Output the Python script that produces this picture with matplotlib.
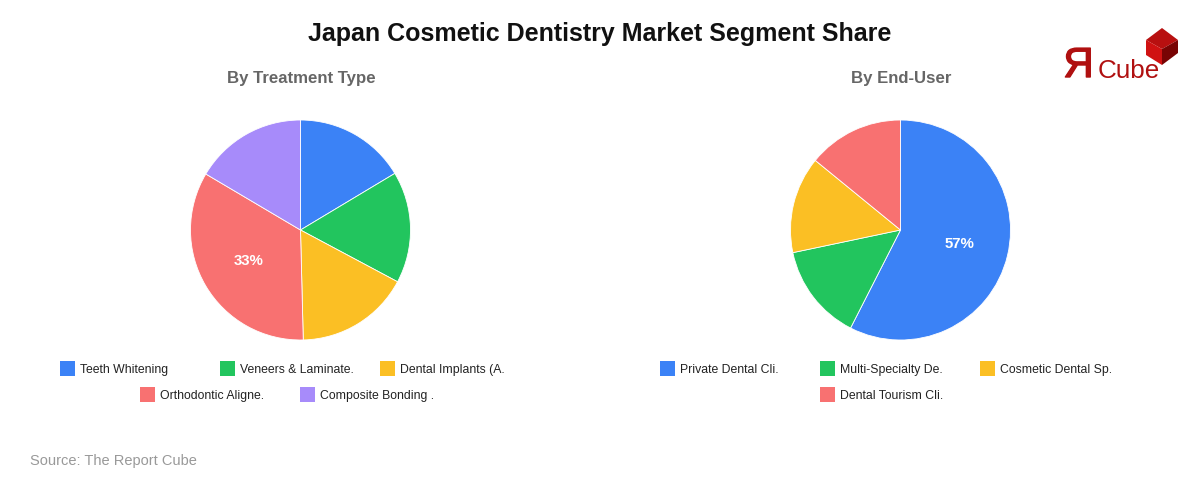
import math

import matplotlib
matplotlib.use("Agg")
import matplotlib.pyplot as plt
import matplotlib.patheffects as pe
from matplotlib.patches import Polygon, Rectangle

plt.rcParams["font.family"] = ["Liberation Sans", "DejaVu Sans"]

W, H = 1200, 480
PT = 72 / 100  # px -> pt

treatment_labels = ["Teeth Whitening", "Veneers & Laminate.", "Dental Implants (A.",
                    "Orthodontic Aligne.", "Composite Bonding ."]
treatment_values = [16.4, 16.4, 16.8, 33.9, 16.5]
treatment_pct = ["", "", "", "33%", ""]
treatment_colors = ["#3b82f6", "#22c55e", "#fbbf24", "#f87171", "#a78bfa"]

enduser_labels = ["Private Dental Cli.", "Multi-Specialty De.", "Cosmetic Dental Sp.",
                  "Dental Tourism Cli."]
enduser_values = [57.5, 14.2, 14.2, 14.1]
enduser_pct = ["57%", "", "", ""]
enduser_colors = ["#3b82f6", "#22c55e", "#fbbf24", "#f87171"]


def pie(fig, cx, cy, r, values, colors, pct):
    ax = fig.add_axes([(cx - r - 1) / W, 1 - (cy + r + 1) / H, (2 * r + 2) / W, (2 * r + 2) / H])
    ax.pie(values, colors=colors, startangle=90, counterclock=False, radius=1,
           wedgeprops=dict(edgecolor="white", linewidth=0.6))
    ax.set_xlim(-(r + 1) / r, (r + 1) / r)
    ax.set_ylim(-(r + 1) / r, (r + 1) / r)
    # percentual só na maior fatia, como no original
    total = sum(values)
    acc = 0
    for v, p in zip(values, pct):
        mid = (acc + v / 2) / total * 2 * math.pi
        acc += v
        if p:
            ax.text(0.55 * math.sin(mid), 0.55 * math.cos(mid), p, color="white",
                    fontsize=15 * PT, fontweight="bold", ha="center", va="center")


def legenda(ov, itens, cores, posicoes):
    for nome, cor, (x, y) in zip(itens, cores, posicoes):
        ov.add_patch(Rectangle((x, y), 15, 15, facecolor=cor, edgecolor="none"))
        ov.text(x + 20, y + 9, nome, fontsize=12.3 * PT, color="#222222", ha="left", va="center")


fig = plt.figure(figsize=(12, 4.8), dpi=100, facecolor="white")

# camada em coordenadas de pixel para textos, legendas e logo
ov = fig.add_axes([0, 0, 1, 1])
ov.set_xlim(0, W)
ov.set_ylim(H, 0)
ov.axis("off")

ov.text(600, 34, "Japan Cosmetic Dentistry Market Segment Share", fontsize=25 * PT,
        fontweight="bold", color="#111111", ha="center", va="center")
ov.text(301, 78, "By Treatment Type", fontsize=16.7 * PT, fontweight="bold",
        color="#666666", ha="center", va="center")
ov.text(901, 78, "By End-User", fontsize=16.7 * PT, fontweight="bold",
        color="#666666", ha="center", va="center")

pie(fig, 300.5, 230, 110, treatment_values, treatment_colors, treatment_pct)
pie(fig, 900.5, 230, 110, enduser_values, enduser_colors, enduser_pct)

legenda(ov, treatment_labels, treatment_colors,
        [(60, 361), (220, 361), (380, 361), (140, 387), (300, 387)])
legenda(ov, enduser_labels, enduser_colors,
        [(660, 361), (820, 361), (980, 361), (820, 387)])

ov.text(30, 461, "Source: The Report Cube", fontsize=14.6 * PT, color="#999999",
        ha="left", va="center")

# ── Logo ──
ov.text(1078.5, 77, "Я", fontsize=42 * PT, color="#b01010", ha="center", va="baseline",
        path_effects=[pe.withStroke(linewidth=1.0, foreground="#b01010")])
ov.text(1098, 78, "Cube", fontsize=26 * PT, color="#b01010", ha="left", va="baseline")
ov.add_patch(Polygon([(1162, 28), (1178, 40), (1162, 49), (1146, 40)], facecolor="#b81010", edgecolor="none"))
ov.add_patch(Polygon([(1146, 40), (1162, 49), (1162, 65), (1146, 55)], facecolor="#d01212", edgecolor="none"))
ov.add_patch(Polygon([(1178, 40), (1162, 49), (1162, 65), (1178, 53)], facecolor="#780404", edgecolor="none"))

fig.savefig("out.png", dpi=100)
